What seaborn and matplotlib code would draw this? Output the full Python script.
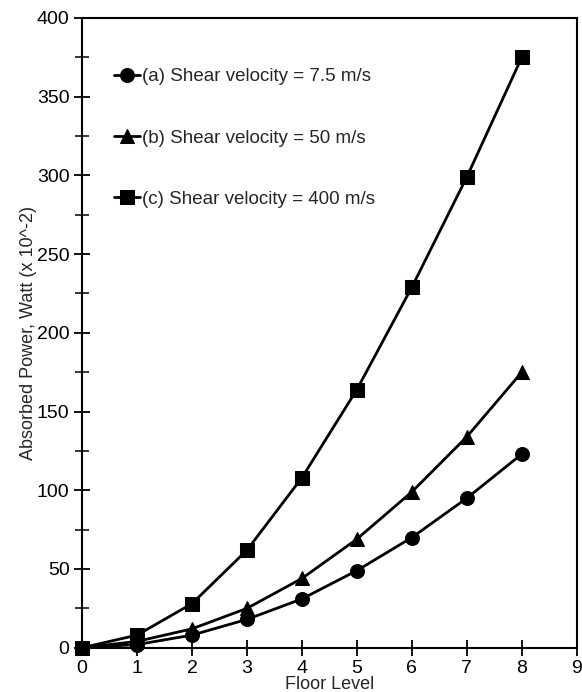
import matplotlib.pyplot as plt
import seaborn as sns
import pandas as pd

floors = [0, 1, 2, 3, 4, 5, 6, 7, 8]
power_a = [0, 2, 8, 18, 31, 49, 70, 95, 123]
power_b = [0, 4, 12, 25, 44, 69, 99, 134, 175]
power_c = [0, 8, 28, 62, 108, 164, 229, 299, 375]
labels = ["(a) Shear velocity = 7.5 m/s",
          "(b) Shear velocity = 50 m/s",
          "(c) Shear velocity = 400 m/s"]
markers = ["o", "^", "s"]

sns.set_style("ticks")
plt.rcParams['font.family'] = ['Liberation Sans', 'DejaVu Sans']

rows = []
for lab, vals in zip(labels, [power_a, power_b, power_c]):
    for f, v in zip(floors, vals):
        rows.append({"Floor Level": f, "Power": v, "Series": lab})
df = pd.DataFrame(rows)

fig = plt.figure(figsize=(5.82, 6.92), dpi=100)
ax = fig.add_axes([0.141, 0.064, 0.850, 0.910])

for lab, m in zip(labels, markers):
    sub = df[df["Series"] == lab]
    sns.lineplot(data=sub, x="Floor Level", y="Power", ax=ax, color="black",
                 marker=m, markersize=10, markeredgecolor="black", linewidth=2,
                 label=lab, clip_on=False)

ax.set_xlim(0, 9)
ax.set_ylim(0, 400)
ax.set_xticks(range(0, 10))
ax.set_yticks(range(0, 401, 50))
ax.set_yticks(range(25, 400, 50), minor=True)
ax.tick_params(axis="both", which="major", direction="inout", length=12, width=1.3,
               labelsize=14, colors="black", pad=3)
ax.tick_params(axis="y", which="minor", direction="inout", length=10, width=1.3)
for s in ax.spines.values():
    s.set_linewidth(1.5)
    s.set_color("black")
ax.set_xlabel("Floor Level", fontsize=13, labelpad=-1)
ax.set_ylabel("Absorbed Power, Watt (x 10^-2)", fontsize=13, labelpad=0)

ax.legend(loc="upper left", bbox_to_anchor=(0.045, 0.935), frameon=False, fontsize=13.5,
          handlelength=1.4, handletextpad=0.1, labelspacing=2.35, borderpad=0)

fig.savefig("out.png", dpi=100)
